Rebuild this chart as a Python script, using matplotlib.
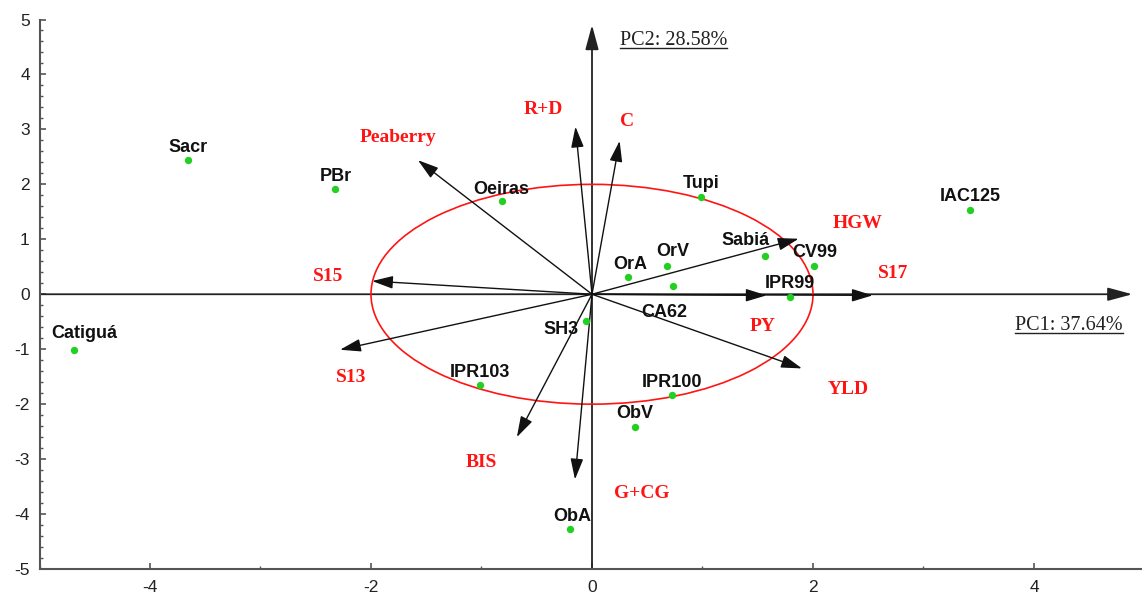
import matplotlib
matplotlib.use('Agg')
import matplotlib.pyplot as plt
from matplotlib.patches import Circle, FancyArrowPatch
from matplotlib.lines import Line2D
from matplotlib.ticker import MultipleLocator

# ---------------- data ----------------
genotypes = ['Sacr', 'PBr', 'Oeiras', 'Tupi', 'IAC125', 'Sabiá', 'CV99', 'OrA', 'OrV',
             'CA62', 'IPR99', 'SH3', 'IPR103', 'IPR100', 'ObV', 'ObA', 'Catiguá']
pc1_scores = [-3.66, -2.33, -0.81, 0.99, 3.42, 1.57, 2.01, 0.33, 0.68,
              0.73, 1.79, -0.05, -1.01, 0.72, 0.39, -0.20, -4.69]
pc2_scores = [2.44, 1.91, 1.69, 1.77, 1.54, 0.70, 0.52, 0.31, 0.52,
              0.15, -0.05, -0.49, -1.66, -1.84, -2.41, -4.28, -1.01]

variables = ['Peaberry', 'R+D', 'C', 'HGW', 'S17', 'PY', 'YLD', 'S15', 'S13', 'BIS', 'G+CG']
load_pc1 = [-1.575, -0.15, 0.25, 1.87, 2.54, 1.58, 1.90, -1.99, -2.28, -0.68, -0.154]
load_pc2 = [2.44, 3.05, 2.79, 1.01, -0.02, -0.02, -1.35, 0.24, -1.01, -2.60, -3.37]

circle_radius = 2.0
pc1_label = 'PC1: 37.64%'
pc2_label = 'PC2: 28.58%'
x_ticks = [-4, -2, 0, 2, 4]
y_ticks = [-5, -4, -3, -2, -1, 0, 1, 2, 3, 4, 5]

# ---------------- label offsets (pixels; style only) ----------------
geno_offsets = {
    'Sacr': (0, 15), 'PBr': (1, 15), 'Oeiras': (-1, 14), 'Tupi': (0, 15),
    'IAC125': (0, 15), 'Sabiá': (-20, 17), 'CV99': (1, 15), 'OrA': (2, 15),
    'OrV': (6, 16), 'CA62': (-8, -24), 'IPR99': (0, 15), 'SH3': (-25, -6),
    'IPR103': (0, 15), 'IPR100': (0, 15), 'ObV': (0, 15), 'ObA': (2, 15),
    'Catiguá': (10, 18),
}
var_offsets = {
    'Peaberry': (-20, 25), 'R+D': (-32, 19), 'C': (7, 21), 'HGW': (59, 17),
    'S17': (20, 24), 'PY': (-4, -29), 'YLD': (46, -19), 'S15': (-44, 7),
    'S13': (11, -26), 'BIS': (-36, -23), 'G+CG': (67, -12),
}

RED = '#ff1414'
GREEN = '#22d022'

fig = plt.figure(figsize=(11.42, 5.96), dpi=100)
ax = fig.add_axes([39.5 / 1142, 27 / 596, 1105 / 1142, 549.5 / 596])
ax.set_xlim(-5, 5)
ax.set_ylim(-5, 5)

for s in ['top', 'right']:
    ax.spines[s].set_visible(False)
for s in ['left', 'bottom']:
    ax.spines[s].set_color('#555555')
    ax.spines[s].set_linewidth(1.5)

ax.set_xticks(x_ticks)
ax.set_yticks(y_ticks)
ax.xaxis.set_minor_locator(MultipleLocator(1))
ax.yaxis.set_minor_locator(MultipleLocator(0.2))
ax.tick_params(which='major', direction='in', length=4, width=1.2, color='#555555',
               labelsize=12.5, labelcolor='#222222')
ax.tick_params(which='minor', direction='in', length=2, width=1.0, color='#555555')
ax.tick_params(axis='x', which='major', pad=8)
ax.tick_params(axis='y', which='major', pad=7)
ax.set_xticklabels([str(t) for t in x_ticks], family='Liberation Sans')
ax.set_yticklabels([str(t) for t in y_ticks], family='Liberation Sans')

# ---------------- PC axes ----------------
axis_style = '-|>,head_length=1.0,head_width=0.27'
ax.add_patch(FancyArrowPatch((-5, 0), (4.89, 0), arrowstyle=axis_style,
                             mutation_scale=15, color='#222222', lw=1.3, shrinkA=0, shrinkB=0, zorder=2))
ax.add_patch(FancyArrowPatch((0, -5), (0, 4.9), arrowstyle=axis_style,
                             mutation_scale=15, color='#222222', lw=1.3, shrinkA=0, shrinkB=0, zorder=2))

# ---------------- circle ----------------
ax.add_patch(Circle((0, 0), circle_radius, fill=False, edgecolor=RED, lw=1.2, zorder=3))

# ---------------- loading vectors ----------------
for name, lx, ly in zip(variables, load_pc1, load_pc2):
    ax.add_patch(FancyArrowPatch((0, 0), (lx, ly), arrowstyle='-|>,head_length=0.85,head_width=0.26',
                                 mutation_scale=15, color='#111111', lw=1.0,
                                 shrinkA=0, shrinkB=0, zorder=4))
    dx, dy = var_offsets[name]
    ax.annotate(name, (lx, ly), xytext=(dx, dy - 6.5), textcoords='offset pixels',
                ha='center', va='baseline', color=RED, fontsize=14,
                fontweight='bold', family='Liberation Serif', zorder=6)

# ---------------- genotype scores ----------------
ax.scatter(pc1_scores, pc2_scores, s=28, color=GREEN, zorder=5, linewidths=0)
for name, x, y in zip(genotypes, pc1_scores, pc2_scores):
    dx, dy = geno_offsets[name]
    ax.annotate(name, (x, y), xytext=(dx, dy - 6.5), textcoords='offset pixels',
                ha='center', va='baseline', color='#111111', fontsize=13,
                fontweight='bold', family='Liberation Sans', zorder=6)

# ---------------- PC labels (underlined) ----------------
t1 = ax.text(3.83, -0.655, pc1_label, ha='left', va='baseline', fontsize=14.5,
             family='Liberation Serif', color='#222222')
t2 = ax.text(0.253, 4.53, pc2_label, ha='left', va='baseline', fontsize=14.5,
             family='Liberation Serif', color='#222222')
fig.canvas.draw()
renderer = fig.canvas.get_renderer()
for t in (t1, t2):
    bb = t.get_window_extent(renderer)
    xb, yb = t.get_position()
    base_px = ax.transData.transform((xb, yb))[1]
    y_line = base_px - 3
    fig.add_artist(Line2D([bb.x0, bb.x1], [y_line, y_line], transform=None,
                          color='#222222', lw=1.0))

fig.savefig('out.png', dpi=100)
